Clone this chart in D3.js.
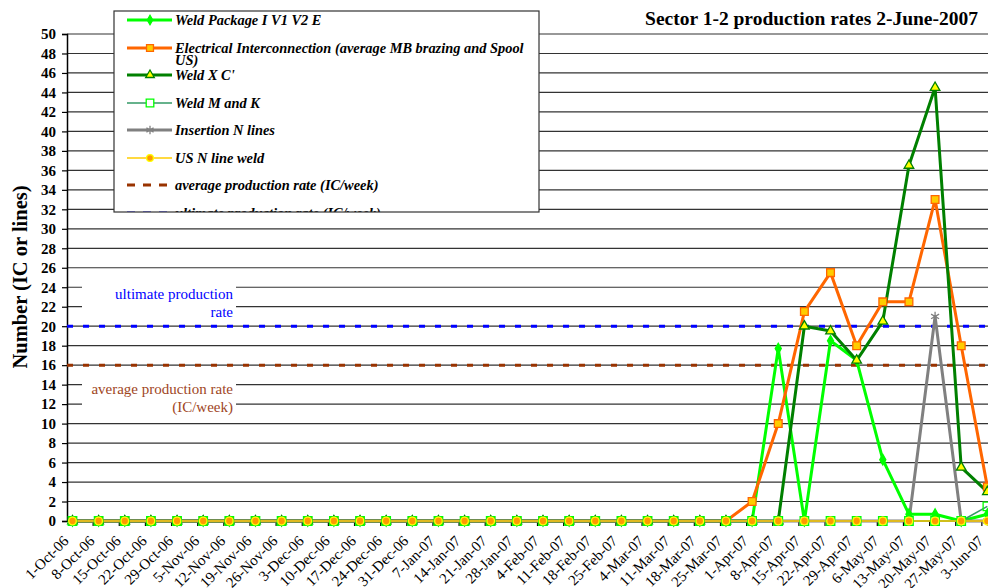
<!DOCTYPE html>
<html><head><meta charset="utf-8">
<script src="https://cdn.jsdelivr.net/npm/d3@7"></script>
<style>body{margin:0;background:#fff}svg{display:block}</style>
</head><body>
<svg id="c" width="988" height="588"></svg>
<script>
const categories = ["1-Oct-06","8-Oct-06","15-Oct-06","22-Oct-06","29-Oct-06","5-Nov-06","12-Nov-06","19-Nov-06","26-Nov-06","3-Dec-06","10-Dec-06","17-Dec-06","24-Dec-06","31-Dec-06","7-Jan-07","14-Jan-07","21-Jan-07","28-Jan-07","4-Feb-07","11-Feb-07","18-Feb-07","25-Feb-07","4-Mar-07","11-Mar-07","18-Mar-07","25-Mar-07","1-Apr-07","8-Apr-07","15-Apr-07","22-Apr-07","29-Apr-07","6-May-07","13-May-07","20-May-07","27-May-07","3-Jun-07"];
const weldPackage = [0,0,0,0,0,0,0,0,0,0,0,0,0,0,0,0,0,0,0,0,0,0,0,0,0,0,0,17.7,0,18.5,16.5,6.3,0.7,0.7,0,0.7];
const electrical  = [0,0,0,0,0,0,0,0,0,0,0,0,0,0,0,0,0,0,0,0,0,0,0,0,0,0,2,10,21.5,25.5,18,22.5,22.5,33,18,3.5];
const weldXC      = [0,0,0,0,0,0,0,0,0,0,0,0,0,0,0,0,0,0,0,0,0,0,0,0,0,0,0,0,20,19.5,16.5,20.5,36.5,44.5,5.5,3];
const weldMK      = [0,0,0,0,0,0,0,0,0,0,0,0,0,0,0,0,0,0,0,0,0,0,0,0,0,0,0,0,0,0,0,0,0,0,0,1.5];
const insertion   = [0,0,0,0,0,0,0,0,0,0,0,0,0,0,0,0,0,0,0,0,0,0,0,0,0,0,0,0,0,0,0,0,0,21,0,0];
const usNLine     = [0,0,0,0,0,0,0,0,0,0,0,0,0,0,0,0,0,0,0,0,0,0,0,0,0,0,0,0,0,0,0,0,0,0,0,0];
const yTicks = [0,2,4,6,8,10,12,14,16,18,20,22,24,26,28,30,32,34,36,38,40,42,44,46,48,50];
const avgRate = 16;
const ultimateRate = 20;
const seriesNames = ["Weld Package I V1 V2  E","Electrical Interconnection (average MB brazing and Spool","Weld  X C'","Weld M and K","Insertion N lines","US N line weld","average production rate (IC/week)","ultimate production rate (IC/week)"];
const titleText = "Sector 1-2 production rates 2-June-2007";
const yTitle = "Number (IC or lines)";

const serif = "'Liberation Serif','Times New Roman',serif";
const svg = d3.select("#c");
svg.append("rect").attr("width",988).attr("height",588).attr("fill","#fff");

const x = d3.scaleBand().domain(categories).range([67,1008]);
const px = c => x(c) + 5.5;
const y = d3.scaleLinear().domain([0,50]).range([521,34]);

// gridlines
svg.append("g").selectAll("line").data(yTicks.filter(t=>t>0)).join("line")
  .attr("x1",67).attr("x2",988).attr("y1",d=>y(d)).attr("y2",d=>y(d))
  .attr("stroke","#333").attr("stroke-width",1.2);

// annotation boxes
const ann = [
  {lines:["ultimate production","rate"], color:"#0000ff", top:y(24.6), base:y(22.3)+4},
  {lines:["average production rate","(IC/week)"], color:"#a0461e", top:y(14.7), base:y(12.5)+4}
];
ann.forEach(a=>{
  svg.append("rect").attr("x",82).attr("width",154).attr("y",a.top).attr("height",37).attr("fill","#fff");
  a.lines.forEach((t,i)=>{
    svg.append("text").attr("x",233).attr("y",a.base + i*18 - 9).attr("text-anchor","end")
      .attr("font-family",serif).attr("font-size",15).attr("fill",a.color).text(t);
  });
});

// y axis
const yAxis = svg.append("g").attr("transform","translate(67,0)")
  .call(d3.axisLeft(y).tickValues(yTicks).tickSize(5).tickPadding(6).tickFormat(d3.format("d")));
yAxis.select(".domain").attr("stroke","#000").attr("stroke-width",1.5);
yAxis.selectAll(".tick line").attr("stroke","#000").attr("stroke-width",1.2);
yAxis.selectAll("text").attr("font-family",serif).attr("font-size",15).attr("font-weight","bold").attr("fill","#000");

// x axis ticks
const xt = svg.append("g");
xt.selectAll("line").data(categories.slice(1)).join("line")
  .attr("x1",d=>x(d)).attr("x2",d=>x(d)).attr("y1",521).attr("y2",526)
  .attr("stroke","#000").attr("stroke-width",1.2);
svg.append("line").attr("x1",67).attr("x2",988).attr("y1",521).attr("y2",521).attr("stroke","#000").attr("stroke-width",1.2);
xt.selectAll("text").data(categories).join("text")
  .attr("transform",d=>`translate(${px(d)-3},542) rotate(-45)`)
  .attr("text-anchor","end").attr("font-family",serif).attr("font-size",15).attr("fill","#000").text(d=>d);

// rate lines
[[avgRate,"#993300"],[ultimateRate,"#0000ff"]].forEach(([v,c])=>{
  svg.append("line").attr("x1",67).attr("x2",988).attr("y1",y(v)).attr("y2",y(v))
    .attr("stroke",c).attr("stroke-width",3).attr("stroke-dasharray","6,10");
});

// series
const series = [
  {data:weldPackage, color:"#00ff00", w:3, sym:d3.symbolDiamond, size:32, fill:"#00ff00", stroke:"#00ff00"},
  {data:electrical, color:"#ff6600", w:3, sym:d3.symbolSquare, size:60, fill:"#ffcc00", stroke:"#ff6600"},
  {data:weldXC, color:"#008000", w:3, sym:d3.symbolTriangle, size:40, fill:"#ffff00", stroke:"#008000"},
  {data:weldMK, color:"#339966", w:1.5, sym:d3.symbolSquare, size:72, fill:"none", stroke:"#00ff00"},
  {data:insertion, color:"#808080", w:3, sym:d3.symbolAsterisk, size:60, fill:"none", stroke:"#808080"},
  {data:usNLine, color:"#ffcc00", w:1.5, sym:d3.symbolCircle, size:45, fill:"#ff9900", stroke:"#ffff00"}
];
const line = d3.line().x((d,i)=>px(categories[i])).y(d=>y(d));
series.forEach(s=>{
  svg.append("path").attr("d",line(s.data)).attr("fill","none").attr("stroke",s.color).attr("stroke-width",s.w).attr("stroke-linejoin","round");
});
series.forEach(s=>{
  svg.append("g").selectAll("path").data(s.data).join("path")
    .attr("transform",(d,i)=>`translate(${px(categories[i])},${y(d)})`)
    .attr("d",d3.symbol(s.sym,s.size)).attr("fill",s.fill).attr("stroke",s.stroke).attr("stroke-width",1.3);
});

// legend
const lg = svg.append("g");
svg.append("clipPath").attr("id","lgclip").append("rect").attr("x",114).attr("y",11).attr("width",425).attr("height",201);
const lgi = lg.append("g").attr("clip-path","url(#lgclip)");
lgi.append("rect").attr("x",114).attr("y",11).attr("width",425).attr("height",201).attr("fill","#fff");
const rows = [20,48,75,103,130,158,185,213];
series.forEach((s,i)=>{
  lgi.append("line").attr("x1",127).attr("x2",172).attr("y1",rows[i]).attr("y2",rows[i]).attr("stroke",s.color).attr("stroke-width",s.w);
  lgi.append("path").attr("transform",`translate(150,${rows[i]})`).attr("d",d3.symbol(s.sym,s.size*0.8))
    .attr("fill",s.fill==="none"?"#fff":s.fill).attr("stroke",s.stroke).attr("stroke-width",1.3);
});
[[6,"#993300"],[7,"#0000ff"]].forEach(([i,c])=>{
  lgi.append("line").attr("x1",127).attr("x2",172).attr("y1",rows[i]).attr("y2",rows[i]).attr("stroke",c).attr("stroke-width",3).attr("stroke-dasharray","8,8");
});
seriesNames.forEach((n,i)=>{
  lgi.append("text").attr("x",175).attr("y",rows[i]+5).attr("font-family",serif).attr("font-size",14.4)
    .attr("font-weight","bold").attr("font-style","italic").attr("fill","#000").text(n);
});
lgi.append("text").attr("x",175).attr("y",rows[1]+17).attr("font-family",serif).attr("font-size",14.4)
  .attr("font-weight","bold").attr("font-style","italic").attr("fill","#000").text("US)");
lg.append("rect").attr("x",114).attr("y",11).attr("width",425).attr("height",201).attr("fill","none").attr("stroke","#333").attr("stroke-width",1.2);

// titles
svg.append("text").attr("x",978).attr("y",25).attr("text-anchor","end").attr("font-family",serif)
  .attr("font-size",19.5).attr("font-weight","bold").attr("fill","#000").text(titleText);
svg.append("text").attr("transform","translate(27,277) rotate(-90)").attr("text-anchor","middle")
  .attr("font-family",serif).attr("font-size",20.5).attr("font-weight","bold").attr("fill","#000").text(yTitle);
</script>
</body></html>
